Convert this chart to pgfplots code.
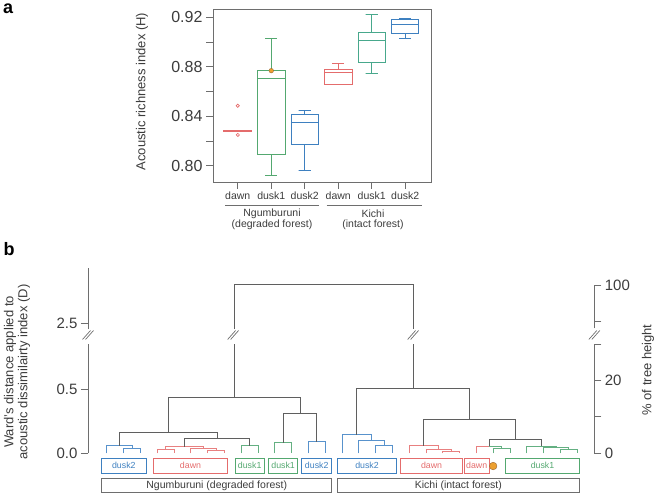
\documentclass[border=0pt]{standalone}
\usepackage{pgfplots}
\pgfplotsset{compat=1.18}
\usepackage{fontspec}
\setmainfont{Liberation Sans}
\definecolor{txt}{RGB}{60,60,60}
\definecolor{axc}{RGB}{110,110,110}
\definecolor{cred}{RGB}{228,108,108}
\definecolor{cgreen}{RGB}{84,168,112}
\definecolor{cteal}{RGB}{72,168,140}
\definecolor{cblue}{RGB}{62,128,192}
\definecolor{dred}{RGB}{232,128,128}
\definecolor{dgreen}{RGB}{100,176,130}
\definecolor{dblue}{RGB}{88,146,204}
\definecolor{dgray}{RGB}{95,95,95}
\definecolor{corange}{RGB}{236,160,48}
\newcommand{\fs}[1]{\fontsize{#1}{#1}\selectfont}
\begin{document}
\begin{tikzpicture}
\useasboundingbox (0pt,0pt) rectangle (659pt,495pt);
% ---------------- panel a ----------------
\node[font=\fs{18}\bfseries, text=black, anchor=north west, inner sep=0pt] at (3pt,491pt) {a};
\begin{axis}[
  at={(213pt,313pt)}, anchor=south west, scale only axis,
  width=218pt, height=173pt,
  xmin=0.26, xmax=6.77, ymin=0.7868, ymax=0.9267,
  axis line style={axc, line width=0.8pt},
  tick style={axc, line width=0.8pt},
  tick align=outside, major tick length=7pt, minor tick length=7pt,
  xtick={1,...,6}, xticklabels={dawn,dusk1,dusk2,dawn,dusk1,dusk2},
  xtick pos=bottom, ytick pos=left,
  ytick={0.80,0.84,0.88,0.92}, yticklabels={0.80,0.84,0.88,0.92},
  minor ytick={0.82,0.86,0.90},
  xticklabel style={font=\fs{10.5}, text=txt, yshift=1pt},
  yticklabel style={font=\fs{16}, text=txt},
  clip=false,
]
% dawn (Ngumburuni)
\addplot[cred, line width=1.6pt] coordinates {(0.57,0.8281) (1.43,0.8281)};
\addplot[only marks, mark=o, mark size=1.6pt, mark options={cred, line width=0.7pt}]
  coordinates {(1,0.8485) (1,0.8249)};
% dusk1 (Ngumburuni)
\addplot[cgreen, line width=0.9pt] coordinates {(1.59,0.8087) (2.41,0.8087) (2.41,0.8768) (1.59,0.8768) (1.59,0.8087)};
\addplot[cgreen, line width=0.9pt] coordinates {(1.59,0.8707) (2.41,0.8707)};
\addplot[cgreen, line width=0.9pt] coordinates {(2,0.8768) (2,0.9027) (1.82,0.9027) (2.18,0.9027)};
\addplot[cgreen, line width=0.9pt] coordinates {(2,0.8087) (2,0.7923) (1.82,0.7923) (2.18,0.7923)};
% dusk2 (Ngumburuni)
\addplot[cblue, line width=0.9pt] coordinates {(2.59,0.8173) (3.41,0.8173) (3.41,0.8418) (2.59,0.8418) (2.59,0.8173)};
\addplot[cblue, line width=0.9pt] coordinates {(2.59,0.8348) (3.41,0.8348)};
\addplot[cblue, line width=0.9pt] coordinates {(3,0.8418) (3,0.8443) (2.82,0.8443) (3.18,0.8443)};
\addplot[cblue, line width=0.9pt] coordinates {(3,0.8173) (3,0.7960) (2.82,0.7960) (3.18,0.7960)};
% dawn (Kichi)
\addplot[cred, line width=0.9pt] coordinates {(3.59,0.8655) (4.41,0.8655) (4.41,0.8779) (3.59,0.8779) (3.59,0.8655)};
\addplot[cred, line width=0.9pt] coordinates {(3.59,0.8755) (4.41,0.8755)};
\addplot[cred, line width=0.9pt] coordinates {(4,0.8779) (4,0.8825) (3.82,0.8825) (4.18,0.8825)};
% dusk1 (Kichi)
\addplot[cteal, line width=0.9pt] coordinates {(4.59,0.8833) (5.41,0.8833) (5.41,0.9079) (4.59,0.9079) (4.59,0.8833)};
\addplot[cteal, line width=0.9pt] coordinates {(4.59,0.9014) (5.41,0.9014)};
\addplot[cteal, line width=0.9pt] coordinates {(5,0.9079) (5,0.9221) (4.82,0.9221) (5.18,0.9221)};
\addplot[cteal, line width=0.9pt] coordinates {(5,0.8833) (5,0.8747) (4.82,0.8747) (5.18,0.8747)};
% dusk2 (Kichi)
\addplot[cblue, line width=0.9pt] coordinates {(5.59,0.9071) (6.41,0.9071) (6.41,0.9180) (5.59,0.9180) (5.59,0.9071)};
\addplot[cblue, line width=0.9pt] coordinates {(5.59,0.9143) (6.41,0.9143)};
\addplot[cblue, line width=0.9pt] coordinates {(6,0.9180) (6,0.9194) (5.82,0.9194) (6.18,0.9194)};
\addplot[cblue, line width=0.9pt] coordinates {(6,0.9071) (6,0.9027) (5.82,0.9027) (6.18,0.9027)};
% highlighted recording
\addplot[only marks, mark=*, mark size=2.3pt,
  mark options={fill=corange, draw=brown!80!black, line width=0.4pt}] coordinates {(2,0.8768)};
\end{axis}
% group labels panel a
\draw[axc, line width=0.8pt] (225pt,290pt) -- (319.3pt,290pt);
\draw[axc, line width=0.8pt] (326.7pt,290pt) -- (421.7pt,290pt);
\node[font=\fs{10.5}, text=txt] at (272pt,281.5pt) {Ngumburuni};
\node[font=\fs{10.5}, text=txt] at (272pt,270pt) {(degraded forest)};
\node[font=\fs{10.5}, text=txt] at (373pt,281.5pt) {Kichi};
\node[font=\fs{10.5}, text=txt] at (373pt,270pt) {(intact forest)};
\node[font=\fs{13}, text=txt, rotate=90] at (142pt,403.5pt) {Acoustic richness index (H)};
% ---------------- panel b ----------------
\node[font=\fs{18}\bfseries, text=black] at (9pt,246pt) {b};
\begin{axis}[
  at={(88pt,41.7pt)}, anchor=south west, scale only axis,
  width=506.3pt, height=185pt,
  xmin=-0.113, xmax=30.02, ymin=0, ymax=1.439,
  axis line style={draw=none},
  tick style={axc, line width=0.8pt},
  tick align=outside, major tick length=7pt,
  xtick=\empty, ytick pos=left,
  ytick={0,0.5,1.011}, yticklabels={0.0,0.5,2.5},
  yticklabel style={font=\fs{15}, text=txt},
  clip=false,
]
% Ngumburuni
\addplot[dblue, line width=0.8pt] coordinates {(2,0) (2,0.036) (3,0.036) (3,0)};
\addplot[dblue, line width=0.8pt] coordinates {(1,0) (1,0.059) (2.5,0.059) (2.5,0.036)};
\addplot[dred, line width=0.8pt] coordinates {(4,0) (4,0.031) (5,0.031) (5,0)};
\addplot[dred, line width=0.8pt] coordinates {(7,0) (7,0.020) (8,0.020) (8,0)};
\addplot[dred, line width=0.8pt] coordinates {(6,0) (6,0.036) (7.5,0.036) (7.5,0.020)};
\addplot[dred, line width=0.8pt] coordinates {(4.5,0.031) (4.5,0.051) (6.75,0.051) (6.75,0.036)};
\addplot[dgreen, line width=0.8pt] coordinates {(9,0) (9,0.059) (10,0.059) (10,0)};
\addplot[dgray, line width=0.8pt] coordinates {(5.625,0.051) (5.625,0.117) (9.5,0.117) (9.5,0.059)};
\addplot[dgray, line width=0.8pt] coordinates {(1.75,0.059) (1.75,0.163) (7.5625,0.163) (7.5625,0.117)};
\addplot[dgreen, line width=0.8pt] coordinates {(11,0) (11,0.082) (12,0.082) (12,0)};
\addplot[dblue, line width=0.8pt] coordinates {(13,0) (13,0.090) (14,0.090) (14,0)};
\addplot[dgray, line width=0.8pt] coordinates {(11.5,0.082) (11.5,0.308) (13.5,0.308) (13.5,0.090)};
\addplot[dgray, line width=0.8pt] coordinates {(4.656,0.163) (4.656,0.432) (12.5,0.432) (12.5,0.308)};
% Kichi
\addplot[dblue, line width=0.8pt] coordinates {(17,0) (17,0.059) (18,0.059) (18,0)};
\addplot[dblue, line width=0.8pt] coordinates {(16,0) (16,0.098) (17.5,0.098) (17.5,0.059)};
\addplot[dblue, line width=0.8pt] coordinates {(15,0) (15,0.145) (16.75,0.145) (16.75,0.098)};
\addplot[dred, line width=0.8pt] coordinates {(21,0) (21,0.018) (22,0.018) (22,0)};
\addplot[dred, line width=0.8pt] coordinates {(20,0) (20,0.031) (21.5,0.031) (21.5,0.018)};
\addplot[dred, line width=0.8pt] coordinates {(19,0) (19,0.059) (20.75,0.059) (20.75,0.031)};
\addplot[dgreen, line width=0.8pt] coordinates {(24,0) (24,0.039) (25,0.039) (25,0)};
\addplot[dred, line width=0.8pt] coordinates {(23,0) (23,0.057) (23.75,0.057)};
\addplot[dgreen, line width=0.8pt] coordinates {(23.75,0.057) (24.5,0.057) (24.5,0.039)};
\addplot[dgreen, line width=0.8pt] coordinates {(28,0) (28,0.031) (29,0.031) (29,0)};
\addplot[dgreen, line width=0.8pt] coordinates {(27,0) (27,0.044) (28.5,0.044) (28.5,0.031)};
\addplot[dgreen, line width=0.8pt] coordinates {(26,0) (26,0.057) (27.75,0.057) (27.75,0.044)};
\addplot[dgray, line width=0.8pt] coordinates {(23.75,0.057) (23.75,0.111) (26.875,0.111) (26.875,0.057)};
\addplot[dgray, line width=0.8pt] coordinates {(19.875,0.059) (19.875,0.261) (25.3125,0.261) (25.3125,0.111)};
\addplot[dgray, line width=0.8pt] coordinates {(15.875,0.145) (15.875,0.505) (22.594,0.505) (22.594,0.261)};
% root with break
\addplot[dgray, line width=0.8pt] coordinates {(8.578,0.432) (8.578,0.850)};
\addplot[dgray, line width=0.8pt] coordinates {(19.234,0.505) (19.234,0.850)};
\addplot[dgray, line width=0.8pt] coordinates {(8.578,0.966) (8.578,1.314) (19.234,1.314) (19.234,0.966)};
% orange marker
\addplot[only marks, mark=*, mark size=3.8pt,
  mark options={fill=corange, draw=brown!80!black, line width=0.4pt}] coordinates {(24,-0.099)};
% axis lines with breaks
\draw[axc, line width=0.8pt] (axis cs:-0.113,0) -- (axis cs:-0.113,0.850);
\draw[axc, line width=0.8pt] (axis cs:-0.113,0.966) -- (axis cs:-0.113,1.439);
\draw[axc, line width=0.8pt] (axis cs:30.02,0) -- (axis cs:30.02,0.850);
\draw[axc, line width=0.8pt] (axis cs:30.02,0.972) -- (axis cs:30.02,1.303);
% label boxes
\draw[cblue, line width=0.7pt] (axis cs:0.702,-0.0389) rectangle (axis cs:3.339,-0.1555);
\node[font=\fs{8.8}, text=cblue] at (axis cs:2.02,-0.097) {dusk2};
\draw[cred, line width=0.7pt] (axis cs:3.774,-0.0389) rectangle (axis cs:8.202,-0.1555);
\node[font=\fs{8.8}, text=cred] at (axis cs:5.988,-0.097) {dawn};
\draw[cgreen, line width=0.7pt] (axis cs:8.637,-0.0389) rectangle (axis cs:10.381,-0.1555);
\node[font=\fs{8.8}, text=cgreen] at (axis cs:9.509,-0.097) {dusk1};
\draw[cgreen, line width=0.7pt] (axis cs:10.631,-0.0389) rectangle (axis cs:12.369,-0.1555);
\node[font=\fs{8.8}, text=cgreen] at (axis cs:11.5,-0.097) {dusk1};
\draw[cblue, line width=0.7pt] (axis cs:12.607,-0.0389) rectangle (axis cs:14.393,-0.1555);
\node[font=\fs{8.8}, text=cblue] at (axis cs:13.5,-0.097) {dusk2};
\draw[cblue, line width=0.7pt] (axis cs:14.726,-0.0389) rectangle (axis cs:18.262,-0.1555);
\node[font=\fs{8.8}, text=cblue] at (axis cs:16.494,-0.097) {dusk2};
\draw[cred, line width=0.7pt] (axis cs:18.5,-0.0389) rectangle (axis cs:22.167,-0.1555);
\node[font=\fs{8.8}, text=cred] at (axis cs:20.333,-0.097) {dawn};
\draw[cred, line width=0.7pt] (axis cs:22.286,-0.0389) rectangle (axis cs:23.756,-0.1555);
\node[font=\fs{8.8}, text=cred] at (axis cs:23.02,-0.097) {dawn};
\draw[cgreen, line width=0.7pt] (axis cs:24.75,-0.0389) rectangle (axis cs:29.131,-0.1555);
\node[font=\fs{8.8}, text=cgreen] at (axis cs:26.94,-0.097) {dusk1};
\draw[axc, line width=0.8pt] (axis cs:0.702,-0.1944) rectangle (axis cs:14.393,-0.3064);
\node[font=\fs{10.5}, text=txt] at (axis cs:7.547,-0.250) {Ngumburuni (degraded forest)};
\draw[axc, line width=0.8pt] (axis cs:14.726,-0.1944) rectangle (axis cs:29.131,-0.3064);
\node[font=\fs{10.5}, text=txt] at (axis cs:21.93,-0.250) {Kichi (intact forest)};
\end{axis}
\begin{axis}[
  at={(88pt,41.7pt)}, anchor=south west, scale only axis,
  width=506.3pt, height=185pt,
  xmin=-0.113, xmax=30.02, ymin=0, ymax=1.439,
  axis line style={draw=none},
  tick style={axc, line width=0.8pt},
  tick align=outside, major tick length=7pt,
  xtick=\empty, ytick pos=right,
  ytick={0,0.2846,0.570,0.850,1.029,1.303}, yticklabels={0,,20,,,100},
  yticklabel style={font=\fs{15}, text=txt},
]
\end{axis}
% break marks
\foreach \cx in {88,233.1,413.1,594.3} {
  \draw[axc, line width=0.7pt] (\cx pt-5.5pt,155.5pt) -- (\cx pt+2.5pt,164.5pt);
  \draw[axc, line width=0.7pt] (\cx pt-2.5pt,155.5pt) -- (\cx pt+5.5pt,164.5pt);
}
\node[font=\fs{13}, text=txt, rotate=90, align=center] at (17pt,123pt)
  {Ward's distance applied to\\[1pt]acoustic dissimilairty index (D)};
\node[font=\fs{13}, text=txt, rotate=90] at (648pt,125pt) {\% of tree height};
\end{tikzpicture}
\end{document}
